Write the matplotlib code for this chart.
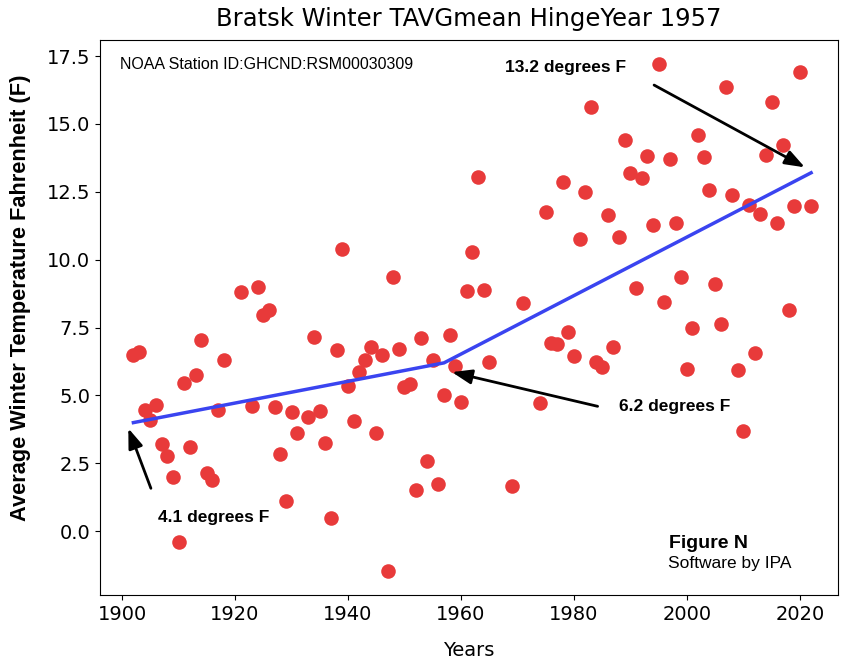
import matplotlib
matplotlib.use("Agg")
import matplotlib.pyplot as plt

years = [1902, 1903, 1904, 1905, 1906, 1907, 1908, 1909, 1910, 1911, 1912, 1913,
         1914, 1915, 1916, 1917, 1918, 1921, 1923, 1924, 1925, 1926, 1927, 1928,
         1929, 1930, 1931, 1933, 1934, 1935, 1936, 1937, 1938, 1939, 1940, 1941,
         1942, 1943, 1944, 1945, 1946, 1947, 1948, 1949, 1950, 1951, 1952, 1953,
         1954, 1955, 1956, 1957, 1958, 1959, 1960, 1961, 1962, 1963, 1964, 1965,
         1969, 1971, 1974, 1975, 1976, 1977, 1978, 1979, 1980, 1981, 1982, 1983,
         1984, 1985, 1986, 1987, 1988, 1989, 1990, 1991, 1992, 1993, 1994, 1995,
         1996, 1997, 1998, 1999, 2000, 2001, 2002, 2003, 2004, 2005, 2006, 2007,
         2008, 2009, 2010, 2011, 2012, 2013, 2014, 2015, 2016, 2017, 2018, 2019,
         2020, 2022]
temps = [6.5, 6.6, 4.45, 4.1, 4.65, 3.2, 2.76, 1.99, -0.4, 5.45, 3.09, 5.75,
         7.03, 2.14, 1.88, 4.46, 6.3, 8.8, 4.6, 8.99, 7.96, 8.14, 4.57, 2.84,
         1.1, 4.38, 3.61, 4.2, 7.15, 4.42, 3.24, 0.47, 6.67, 10.39, 5.34, 4.05,
         5.86, 6.3, 6.78, 3.61, 6.48, -1.47, 9.35, 6.7, 5.3, 5.41, 1.51, 7.1,
         2.58, 6.3, 1.73, 5.0, 7.22, 6.08, 4.75, 8.84, 10.3, 13.04, 8.88, 6.24,
         1.66, 8.4, 4.72, 11.75, 6.92, 6.89, 12.87, 7.33, 6.45, 10.75, 12.5, 15.62,
         6.23, 6.04, 11.64, 6.78, 10.83, 14.4, 13.19, 8.95, 13.0, 13.8, 11.27, 17.2,
         8.45, 13.7, 11.34, 9.35, 5.97, 7.5, 14.59, 13.78, 12.56, 9.1, 7.64, 16.35,
         12.38, 5.93, 3.68, 12.0, 6.56, 11.7, 13.85, 15.8, 11.34, 14.22, 8.14, 11.97,
         16.9, 11.97]

hinge_years = [1902, 1957, 2022]
hinge_temps = [4.0, 6.2, 13.2]

ann_texts = ["4.1 degrees F", "6.2 degrees F", "13.2 degrees F"]
ann_text_pos = [(1906.4, 0.52), (1988.0, 4.60), (1967.8, 17.09)]
ann_heads = [(1901.1, 3.79), (1958.4, 5.86), (2020.9, 13.4)]
ann_tails = [(1905.1, 1.58), (1984.2, 4.6), (1994.2, 16.43)]

HELV = ['Liberation Sans', 'DejaVu Sans']

fig = plt.figure(figsize=(8.41, 6.6), dpi=100)
ax = fig.add_axes([0.119, 0.098, 0.877, 0.841])

ax.scatter(years, temps, s=110, color='#e83a3a', zorder=2, linewidths=0)
ax.plot(hinge_years, hinge_temps, color='#3a44f0', lw=2.5, zorder=3)

ax.set_xlim(1896.1, 2026.7)
ax.set_ylim(-2.36, 18.08)
ax.set_xticks([1900, 1920, 1940, 1960, 1980, 2000, 2020])
ax.set_yticks([0.0, 2.5, 5.0, 7.5, 10.0, 12.5, 15.0, 17.5])
ax.tick_params(labelsize=14)

ax.set_title("Bratsk Winter TAVGmean HingeYear 1957", fontsize=17.5, pad=10)
ax.set_xlabel("Years", fontsize=14, labelpad=12)
ax.set_ylabel("Average Winter Temperature Fahrenheit (F)", fontsize=15.7,
              fontweight='bold', family=HELV)
ax.yaxis.set_label_coords(-0.093, 0.537)

# arrows
for head, tail in zip(ann_heads, ann_tails):
    ax.annotate("", xy=head, xytext=tail,
                arrowprops=dict(arrowstyle='-|>,head_length=0.6,head_width=0.22',
                                color='black', lw=2,
                                mutation_scale=20, shrinkA=0, shrinkB=0))

for txt, (tx, ty) in zip(ann_texts, ann_text_pos):
    ax.text(tx, ty, txt, fontsize=12.5, fontweight='bold', ha='left', va='center',
            family=HELV)

ax.text(0.027, 0.957, "NOAA Station ID:GHCND:RSM00030309", transform=ax.transAxes,
        fontsize=11.5, ha='left', va='center', family=HELV)
ax.text(0.772, 0.094, "Figure N", transform=ax.transAxes, fontsize=14,
        fontweight='bold', ha='left', va='center', family=HELV)
ax.text(0.770, 0.058, "Software by IPA", transform=ax.transAxes, fontsize=12.5,
        ha='left', va='center', family=HELV)

fig.savefig("out.png", dpi=100)
